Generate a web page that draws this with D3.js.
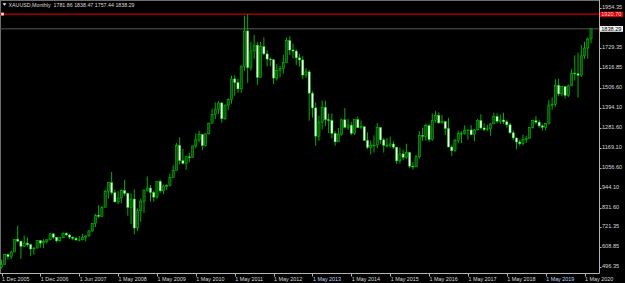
<!DOCTYPE html>
<html>
<head>
<meta charset="utf-8">
<script src="https://cdn.jsdelivr.net/npm/d3@7"></script>
<style>
  body { margin: 0; background: #000; }
  svg { display: block; }
</style>
</head>
<body>
<svg id="svg1"></svg>
<script>
// monthly bars, Dec 2005 .. Jul 2020 (index based, broker history has a few extra bars in 2007)
var barOpen = [495,513,568,556,582,654,643,614,632,623,599,604,646,
  632,640,650,684,665,645,662,688,678,665,659,650,650,666,672,700,743,789,783,834,923,972,916,
  864,886,928,912,833,880,717,814,869,928,942,917,891,979,926,954,955,1000,1040,1182,
  1096,1081,1118,1113,1179,1213,1244,1181,1247,1307,1357,1386,
  1421,1332,1409,1439,1556,1536,1500,1628,1826,1620,1714,1746,
  1565,1738,1697,1668,1664,1561,1604,1614,1648,1772,1719,1713,
  1675,1663,1578,1596,1476,1393,1234,1313,1396,1327,1323,1250,
  1202,1244,1326,1284,1296,1250,1327,1282,1287,1210,1171,1182,
  1184,1283,1213,1183,1183,1190,1172,1095,1134,1115,1142,1065,
  1061,1118,1238,1233,1293,1215,1322,1351,1309,1316,1277,1173,
  1152,1211,1249,1249,1268,1269,1242,1269,1322,1280,1271,1275,
  1303,1345,1318,1325,1315,1298,1253,1224,1201,1192,1215,1222,
  1282,1321,1313,1292,1284,1305,1409,1413,1520,1472,1513,1464,
  1517,1589,1585,1577,1686,1730,1781.86]
var barHigh = [538,570,573,587,655,730,643,675,664,629,609,649,648,
  654,655,690,688,668,668,692,692,684,670,668,672,683,676,705,745,797,845,842,933,975,1033,933,
  925,935,988,915,912,935,827,881,934,1006,959,926,980,990,960,964,1024,1070,1195,1227,
  1162,1123,1139,1182,1249,1265,1246,1250,1310,1388,1424,1431,
  1424,1412,1447,1575,1577,1556,1632,1913,1920,1764,1804,1763,
  1764,1790,1718,1676,1667,1640,1631,1692,1788,1796,1754,1723,
  1697,1684,1617,1606,1487,1423,1348,1434,1434,1361,1361,1262,
  1280,1332,1392,1331,1315,1326,1345,1322,1287,1255,1208,1238,
  1307,1284,1224,1224,1232,1205,1175,1170,1157,1191,1146,1088,
  1128,1263,1283,1304,1304,1362,1375,1367,1352,1318,1337,1182,
  1220,1264,1261,1295,1270,1296,1274,1331,1357,1306,1298,1307,
  1366,1362,1356,1366,1326,1309,1266,1225,1214,1243,1237,1284,
  1326,1347,1324,1302,1306,1439,1453,1555,1557,1517,1516,1525,
  1611,1689,1704,1747,1765,1789,1838.47]
var barLow = [489,513,539,541,582,640,543,610,612,560,566,604,606,
  603,630,648,655,636,640,660,670,655,648,645,642,648,642,668,695,723,773,780,834,883,905,861,
  851,857,899,786,740,681,700,752,802,922,866,866,882,915,908,930,950,1000,1040,1075,
  1075,1044,1087,1112,1166,1200,1155,1175,1244,1308,1330,1359,
  1309,1326,1381,1417,1462,1478,1478,1603,1534,1604,1668,1523,
  1564,1691,1627,1627,1527,1548,1564,1587,1646,1691,1672,1635,
  1626,1555,1562,1321,1338,1180,1208,1271,1291,1251,1221,1180,
  1202,1238,1277,1268,1240,1241,1280,1273,1206,1160,1131,1142,
  1167,1191,1142,1170,1169,1162,1077,1080,1099,1106,1053,1046,
  1061,1108,1206,1208,1200,1208,1310,1302,1304,1241,1171,1123,
  1146,1196,1195,1243,1214,1238,1204,1267,1271,1261,1264,1236,
  1303,1307,1303,1302,1282,1245,1211,1160,1180,1182,1196,1221,
  1276,1302,1281,1266,1267,1301,1382,1400,1459,1458,1446,1454,
  1517,1547,1451,1567,1670,1671,1757.44]
var barClose = [513,568,556,582,654,643,614,632,623,599,604,646,632,
  640,650,684,665,645,662,688,678,665,659,650,650,666,672,700,743,789,783,834,923,972,916,864,
  886,928,912,833,880,717,814,869,928,942,917,891,979,926,954,955,1000,1040,1182,1096,
  1081,1118,1113,1179,1213,1244,1181,1247,1307,1357,1386,1421,
  1332,1409,1439,1556,1536,1500,1628,1826,1620,1714,1746,1565,
  1738,1697,1668,1664,1561,1604,1614,1648,1772,1719,1713,1675,
  1663,1578,1596,1476,1393,1234,1313,1396,1327,1323,1250,1202,
  1244,1326,1284,1296,1250,1327,1282,1287,1210,1171,1182,1184,
  1283,1213,1183,1183,1190,1172,1095,1134,1115,1142,1065,1061,
  1118,1238,1233,1293,1215,1322,1351,1309,1316,1277,1173,1152,
  1211,1249,1249,1268,1269,1242,1269,1322,1280,1271,1275,1303,
  1345,1318,1325,1315,1298,1253,1224,1201,1192,1215,1222,1282,
  1321,1313,1292,1284,1305,1409,1413,1520,1472,1513,1464,1517,
  1589,1585,1577,1686,1730,1781,1838.29]

var timeTickIdx = [0,12,24,36,48,60,72,84,96,108,120,132,144,156,168,180]
var timeTickText = ["1 Dec 2005","1 Dec 2006","1 Jun 2007","1 May 2008","1 May 2009","1 May 2010",
  "1 May 2011","1 May 2012","1 May 2013","1 May 2014","1 May 2015","1 May 2016","1 May 2017",
  "1 May 2018","1 May 2019","1 May 2020"]
var priceTicks = [1954.35,1729.35,1616.85,1506.60,1394.10,1281.60,1169.10,1056.60,944.10,831.60,721.35,608.85,496.35]

var symbolTitle = "XAUUSD,Monthly"
var ohlcText = "1781.86 1838.47 1757.44 1838.29"
var lastPrice = 1838.29
var levelLine = 1920.70

var width = 625, height = 283
var plotRight = 599.5, plotBottom = 273.5
var fontFam = "'Liberation Sans', Arial, sans-serif"

var bars = barOpen.map(function(o, i){
  return {i: i, o: o, h: barHigh[i], l: barLow[i], c: barClose[i]}
})

var svg = d3.select("#svg1")
  .attr("width", width)
  .attr("height", height)

svg.append("rect")
  .attr("width", width).attr("height", height)
  .style("fill", "#000")

var x = d3.scalePoint()
  .domain(d3.range(bars.length))
  .range([1.5, 591])

var y = d3.scaleLinear()
  .domain([496.35, 1954.35])
  .range([267.2, 8.2])

// chart frame
svg.append("line")
  .attr("x1", 0).attr("x2", plotRight).attr("y1", 0.5).attr("y2", 0.5)
  .style("stroke", "#6e6e6e")
svg.append("line")
  .attr("x1", 0.5).attr("x2", 0.5).attr("y1", 0).attr("y2", plotBottom)
  .style("stroke", "#6e6e6e")

// level + bid lines
svg.append("line")
  .attr("x1", 0).attr("x2", plotRight)
  .attr("y1", y(levelLine)).attr("y2", y(levelLine))
  .style("stroke", "#c80000")
  .style("stroke-width", 1.2)
svg.append("rect")
  .attr("x", 1).attr("y", y(levelLine) - 1.5)
  .attr("width", 3).attr("height", 3)
  .style("fill", "#fff")
  .style("stroke", "#c80000")
  .style("stroke-width", 0.5)
svg.append("line")
  .attr("x1", 0).attr("x2", plotRight)
  .attr("y1", y(lastPrice)).attr("y2", y(lastPrice))
  .style("stroke", "#5a5a5a")
  .style("stroke-width", 1)

// candles
var cw = 2.2
var g = svg.append("g").attr("id", "candles")

g.selectAll(".wick")
  .data(bars)
  .enter()
  .append("line")
  .attr("class", "wick")
  .attr("x1", d => x(d.i)).attr("x2", d => x(d.i))
  .attr("y1", d => y(d.h)).attr("y2", d => y(d.l))
  .style("stroke", "#00c400")
  .style("stroke-width", 0.9)

g.selectAll(".body")
  .data(bars)
  .enter()
  .append("rect")
  .attr("class", "body")
  .attr("x", d => x(d.i) - cw / 2)
  .attr("y", d => y(Math.max(d.o, d.c)))
  .attr("width", cw)
  .attr("height", d => Math.max(0.8, Math.abs(y(d.o) - y(d.c))))
  .style("fill", d => d.c >= d.o ? "#0b4f0b" : "#f4fff4")
  .style("stroke", "#00d000")
  .style("stroke-width", 0.5)

// price axis
svg.append("line")
  .attr("x1", plotRight).attr("x2", plotRight).attr("y1", 0).attr("y2", plotBottom)
  .style("stroke", "#b4b4b4")

var yAxis = svg.append("g").attr("id", "yaxis")
yAxis.selectAll("line")
  .data(priceTicks)
  .enter()
  .append("line")
  .attr("x1", plotRight).attr("x2", plotRight + 2)
  .attr("y1", d => Math.round(y(d)) + 0.5).attr("y2", d => Math.round(y(d)) + 0.5)
  .style("stroke", "#b4b4b4")
yAxis.selectAll("text")
  .data(priceTicks)
  .enter()
  .append("text")
  .attr("x", 602)
  .attr("y", d => y(d) + 1)
  .text(d => d.toFixed(2))
  .style("font-family", fontFam)
  .style("font-size", "5.6px")
  .style("fill", "#d8d8d8")

// level label (red) and bid label (white)
svg.append("rect")
  .attr("x", 600).attr("y", y(levelLine) - 2.6)
  .attr("width", 23).attr("height", 5.4)
  .style("fill", "#e00000")
svg.append("text")
  .attr("x", 601.2).attr("y", y(levelLine) + 2)
  .text(levelLine.toFixed(2))
  .style("font-family", fontFam)
  .style("font-size", "5.6px")
  .style("fill", "#ffd0d0")
svg.append("rect")
  .attr("x", 600).attr("y", y(lastPrice) - 2.8)
  .attr("width", 23).attr("height", 5.8)
  .style("fill", "#f0f0f0")
svg.append("text")
  .attr("x", 601.2).attr("y", y(lastPrice) + 2)
  .text(lastPrice.toFixed(2))
  .style("font-family", fontFam)
  .style("font-size", "5.6px")
  .style("fill", "#000")

// time axis
svg.append("line")
  .attr("x1", 0).attr("x2", plotRight).attr("y1", plotBottom).attr("y2", plotBottom)
  .style("stroke", "#b4b4b4")

var xAxis = svg.append("g").attr("id", "xaxis")
xAxis.selectAll("line")
  .data(timeTickIdx)
  .enter()
  .append("line")
  .attr("x1", d => Math.round(x(d)) + 0.5).attr("x2", d => Math.round(x(d)) + 0.5)
  .attr("y1", plotBottom).attr("y2", plotBottom + 3)
  .style("stroke", "#b4b4b4")
xAxis.selectAll("text")
  .data(timeTickIdx)
  .enter()
  .append("text")
  .attr("x", d => x(d) + 0.5)
  .attr("y", 280.5)
  .text((d, i) => timeTickText[i])
  .style("font-family", fontFam)
  .style("font-size", "5.4px")
  .style("fill", (d, i) => (i === 8 || i === 14) ? "#b8d4ff" : "#d8d8d8")

// title
svg.append("path")
  .attr("d", "M2.5,3.2 L6.5,3.2 L4.5,5.8 Z")
  .style("fill", "#e8e8e8")
svg.append("text")
  .attr("x", 8.5).attr("y", 7)
  .text(symbolTitle + "  " + ohlcText)
  .style("font-family", fontFam)
  .style("font-size", "5.3px")
  .style("fill", "#d8d8d8")
  .attr("xml:space", "preserve")
</script>
</body>
</html>
